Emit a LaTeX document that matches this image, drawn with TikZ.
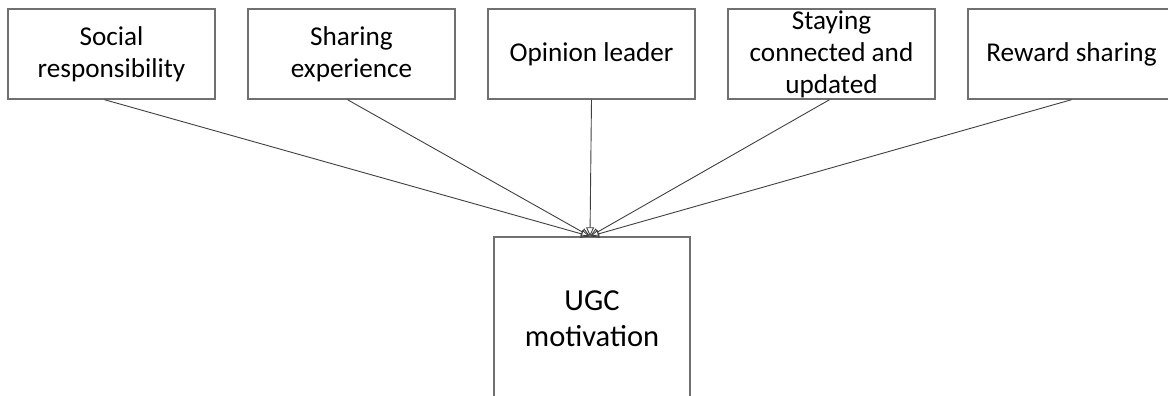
\documentclass[tikz,border=0pt]{standalone}
\usepackage{fontspec}
\setmainfont{Carlito}
\usetikzlibrary{arrows.meta}
\definecolor{boxline}{HTML}{707070}
\definecolor{conn}{HTML}{404040}
\begin{document}
\begin{tikzpicture}[x=1pt,y=-1pt,
  topbox/.style={draw=boxline, line width=1.4pt, fill=white, rectangle, minimum width=207pt, minimum height=90pt, inner sep=0pt, align=center, font=\fontsize{27.2}{32}\selectfont},
  mainbox/.style={draw=boxline, line width=1.4pt, fill=white, rectangle, minimum width=196pt, minimum height=164pt, inner sep=0pt, align=center, font=\fontsize{30.5}{36}\selectfont},
  link/.style={draw=conn, line width=0.9pt, -{Triangle[open, length=9pt, width=8pt]}}]
\useasboundingbox (0,0) rectangle (1168,396);
\fill[white] (0,0) rectangle (1168,396);
\node[topbox] (b1) at (111.5,54) {Social\\responsibility};
\node[topbox] (b2) at (351.5,54) {Sharing\\experience};
\node[topbox] (b3) at (591.5,54) {Opinion leader};
\node[topbox] (b4) at (831.5,54) {Staying\\connected and\\updated};
\node[topbox] (b5) at (1071.5,54) {Reward sharing};
\node[mainbox] (ugc) at (592,319) {UGC\\motivation};
\draw[link] ([xshift=-7pt]b1.south) -- ([xshift=-2pt]ugc.north);
\draw[link] ([xshift=-4pt]b2.south) -- ([xshift=-2pt]ugc.north);
\draw[link] (b3.south) -- ([xshift=-2pt]ugc.north);
\draw[link] ([xshift=-2pt]b4.south) -- ([xshift=-2pt]ugc.north);
\draw[link] (b5.south) -- ([xshift=-2pt]ugc.north);
\end{tikzpicture}
\end{document}
